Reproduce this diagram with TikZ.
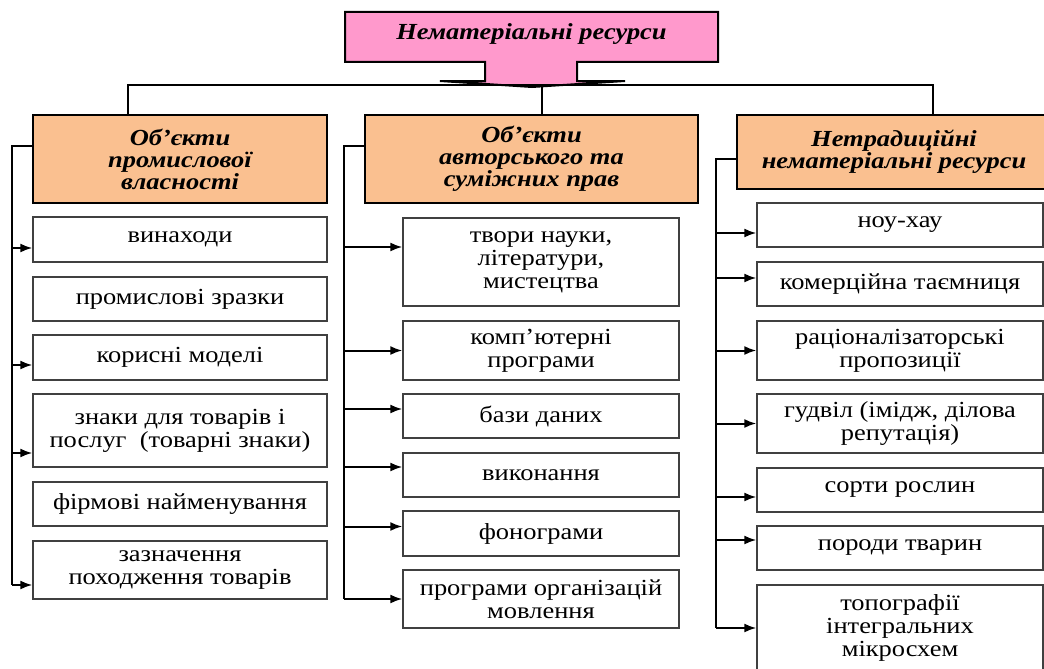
\documentclass[tikz,border=0pt]{standalone}
\usepackage{fontspec}
\setmainfont{Liberation Serif}[FakeStretch=1.15]
\usetikzlibrary{arrows.meta}
\definecolor{pinkbox}{HTML}{FF99CC}
\definecolor{peach}{HTML}{FAC090}

\begin{document}
\begin{tikzpicture}[x=1pt,y=-1pt,
head/.style={draw=black,line width=2pt,fill=peach,align=center,inner sep=0,
	font=\fontsize{23}{22}\selectfont\bfseries\itshape},
item/.style={draw=black!75,line width=1.3pt,align=center,inner sep=0,
	font=\fontsize{23}{23}\selectfont},
bus/.style={line width=2pt},
link/.style={line width=2pt,-{Latex[length=12pt,width=9pt]}}]
	\useasboundingbox[fill=white] (0,0) rectangle (1044,669);

	% top block with its arrow
	\draw[line width=2pt,fill=pinkbox] (345,12) -- (718,12) -- (718,62) -- (577,62)
		-- (577,81) -- (625,81) -- (532,87) -- (440,81) -- (485,81) -- (485,62)
		-- (345,62) -- cycle;
	\node[font=\fontsize{23}{22}\selectfont\bfseries\itshape] at (531.5,34) (top) {Нематеріальні ресурси};

	% headers
	\node[head,minimum width=294,minimum height=88] at (180,159) (h1) {Об’єкти\\промислової\\власності};
	\node[head,minimum width=333,minimum height=88] at (531.5,159) (h2) {Об’єкти\\авторського та\\суміжних прав};
	\node[head,minimum width=314,minimum height=74] at (894,152) (h3) {Нетрадиційні\\нематеріальні ресурси};

	\draw[bus] ([xshift=-52pt]h1.north) -- ++(0,-29) -| ([xshift=39pt]h3.north);
	\draw[bus] ([xshift=10.5pt]h2.north) -- ++(0,-29);

	% first column
	\node[item,minimum width=294,minimum height=45] at (180,239.5) (a1) {винаходи};
	\node[item,minimum width=294,minimum height=44] at (180,299) (a2) {промислові зразки};
	\node[item,minimum width=294,minimum height=45] at (180,357.5) (a3) {корисні моделі};
	\node[item,minimum width=294,minimum height=73] at (180,430.5) (a4) {знаки для товарів і\\послуг~~(товарні знаки)};
	\node[item,minimum width=294,minimum height=44] at (180,504) (a5) {фірмові найменування};
	\node[item,minimum width=294,minimum height=58] at (180,570) (a6) {зазначення\\походження товарів};

	% second column
	\node[item,minimum width=276,minimum height=88] at (541,262) (b1) {твори науки,\\літератури,\\мистецтва};
	\node[item,minimum width=276,minimum height=59] at (541,350.5) (b2) {комп’ютерні\\програми};
	\node[item,minimum width=276,minimum height=44] at (541,416) (b3) {бази даних};
	\node[item,minimum width=276,minimum height=44] at (541,475) (b4) {виконання};
	\node[item,minimum width=276,minimum height=45] at (541,533.5) (b5) {фонограми};
	\node[item,minimum width=276,minimum height=58] at (541,599) (b6) {програми організацій\\мовлення};

	% third column
	\node[item,minimum width=286,minimum height=44] at (900,225) (c1) {ноу-хау};
	\node[item,minimum width=286,minimum height=44] at (900,284) (c2) {комерційна таємниця};
	\node[item,minimum width=286,minimum height=59] at (900,350.5) (c3) {раціоналізаторські\\пропозиції};
	\node[item,minimum width=286,minimum height=59] at (900,423.5) (c4) {гудвіл (імідж, ділова\\репутація)};
	\node[item,minimum width=286,minimum height=44] at (900,490) (c5) {сорти рослин};
	\node[item,minimum width=286,minimum height=44] at (900,548) (c6) {породи тварин};
	\node[item,minimum width=286,minimum height=86] at (900,628) (c7) {топографії\\інтегральних\\мікросхем};

	% side buses
	\draw[bus] ([yshift=13pt]h1.west) -| ([xshift=-20pt,yshift=-15pt]a6.west);
	\draw[bus] ([yshift=13pt]h2.west) -| ([xshift=-58pt]b6.west);
	\draw[bus] ([yshift=-7pt]h3.west) -| ([xshift=-40pt]c7.west);

	\foreach \n/\d in {a1/-8.5,a3/-7.5,a4/-22.5,a6/-15}
		\draw[link] ([xshift=-20pt,yshift=\d pt]\n.west) -- ([yshift=\d pt]\n.west);
	\foreach \n/\d in {b1/15,b2/0,b3/7,b4/8,b5/7,b6/0}
		\draw[link] ([xshift=-58pt,yshift=\d pt]\n.west) -- ([yshift=\d pt]\n.west);
	\foreach \n/\d in {c1/-8,c2/6,c3/0,c4/0,c5/-7,c6/8,c7/0}
		\draw[link] ([xshift=-40pt,yshift=\d pt]\n.west) -- ([yshift=\d pt]\n.west);
\end{tikzpicture}
\end{document}
